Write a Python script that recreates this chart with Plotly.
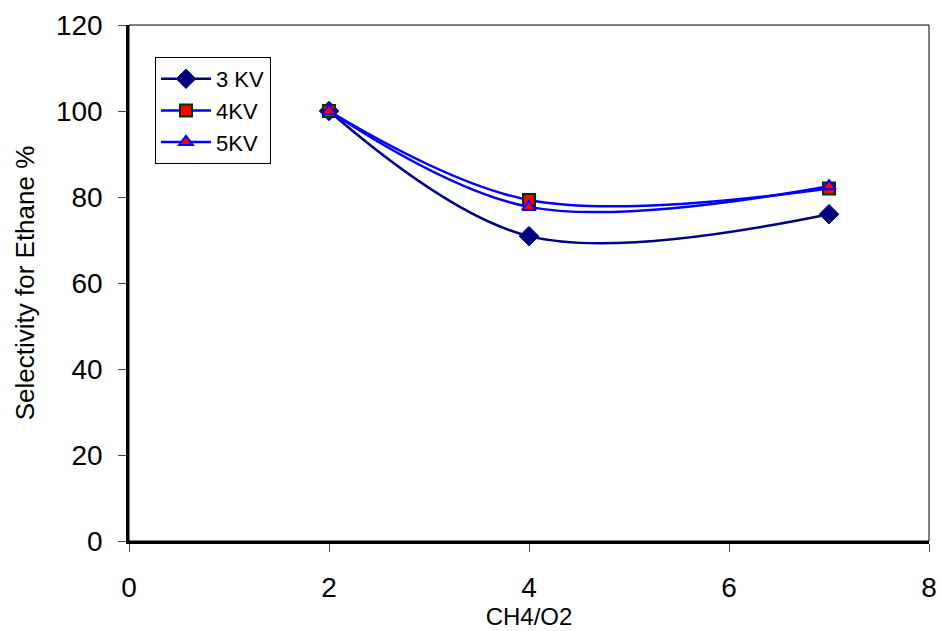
import plotly.graph_objects as go

x_vals = [2, 4, 7]
kv3 = [100, 70.9, 76]
kv4 = [100, 79.3, 82]
kv5 = [100, 77.7, 82.5]
names = ["3 KV", "4KV", "5KV"]

fig = go.Figure()
fig.add_trace(go.Scatter(x=x_vals, y=kv3, name=names[0], mode="lines+markers",
                         line=dict(color="#000080", width=2.5, shape="spline", smoothing=1),
                         marker=dict(symbol="diamond", size=15, color="#000080",
                                     line=dict(color="#000080", width=1))))
fig.add_trace(go.Scatter(x=x_vals, y=kv4, name=names[1], mode="lines+markers",
                         line=dict(color="#0000FF", width=2.5, shape="spline", smoothing=1),
                         marker=dict(symbol="square", size=12, color="#FF0000",
                                     line=dict(color="#003300", width=2))))
fig.add_trace(go.Scatter(x=x_vals, y=kv5, name=names[2], mode="lines+markers",
                         line=dict(color="#0000FF", width=2.5, shape="spline", smoothing=1),
                         marker=dict(symbol="triangle-up", size=12, color="#FF0000",
                                     line=dict(color="#0000FF", width=2))))

# thin frame on top/right
fig.add_shape(type="rect", xref="paper", yref="paper", x0=0, y0=0, x1=1, y1=1,
              line=dict(color="black", width=1), layer="above")

fig.update_layout(
    width=940, height=631,
    margin=dict(l=129, r=11, t=25, b=90, autoexpand=False),
    paper_bgcolor="white", plot_bgcolor="white",
    font=dict(family="Liberation Sans, Arial, sans-serif", color="black"),
    showlegend=True,
    legend=dict(x=0.0325, y=0.938, xanchor="left", yanchor="top",
                bordercolor="black", borderwidth=1, bgcolor="white",
                font=dict(size=22), tracegroupgap=0, itemwidth=50),
    xaxis=dict(range=[0, 8], dtick=2, tick0=0, showgrid=False, zeroline=False,
               showline=True, linecolor="black", linewidth=2.5, automargin=False,
               ticks="outside", ticklen=8, tickcolor="#444", tickwidth=1,
               tickfont=dict(size=28), ticklabelstandoff=12,
               title=dict(text="CH4/O2", font=dict(size=24), standoff=0)),
    yaxis=dict(range=[0, 120], dtick=20, tick0=0, showgrid=False, zeroline=False,
               showline=True, linecolor="black", linewidth=2.5, automargin=False,
               ticks="outside", ticklen=8, tickcolor="#444", tickwidth=1,
               tickfont=dict(size=28), ticklabelstandoff=10,
               title=dict(text="Selectivity for Ethane %", font=dict(size=26), standoff=14)),
)

fig.write_html("out.html", config={"displayModeBar": False},
               post_script="document.body.style.margin='0';document.body.style.overflow='hidden';")
